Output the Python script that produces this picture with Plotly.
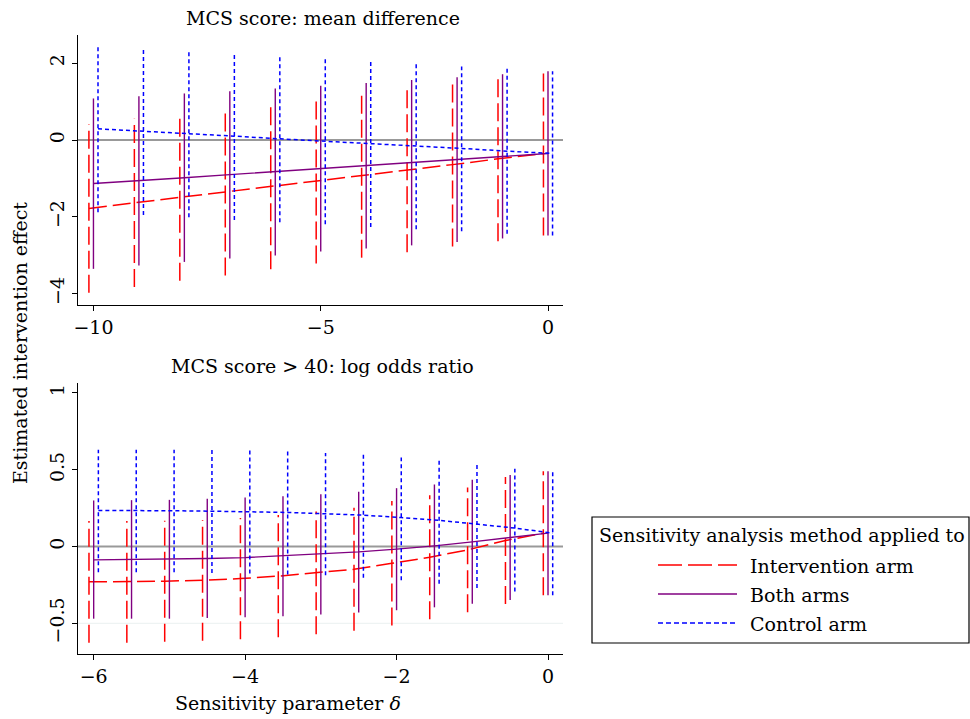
import plotly.graph_objects as go

# ---------------- data ----------------
delta_md = [-10, -9, -8, -7, -6, -5, -4, -3, -2, -1, 0]
md_int_est = [-1.78, -1.63, -1.49, -1.35, -1.21, -1.06, -0.92, -0.78, -0.64, -0.49, -0.35]
md_int_lo = [-3.97, -3.82, -3.66, -3.52, -3.36, -3.21, -3.06, -2.92, -2.77, -2.63, -2.48]
md_int_hi = [0.41, 0.55, 0.68, 0.81, 0.96, 1.09, 1.24, 1.38, 1.52, 1.65, 1.79]
md_both_est = [-1.13, -1.06, -0.98, -0.90, -0.82, -0.74, -0.66, -0.58, -0.50, -0.43, -0.35]
md_both_lo = [-3.35, -3.26, -3.17, -3.08, -3.00, -2.90, -2.82, -2.74, -2.65, -2.56, -2.48]
md_both_hi = [1.08, 1.14, 1.21, 1.27, 1.34, 1.41, 1.48, 1.56, 1.63, 1.71, 1.79]
md_ctrl_est = [0.29, 0.23, 0.16, 0.10, 0.03, -0.03, -0.09, -0.16, -0.22, -0.29, -0.35]
md_ctrl_lo = [-1.88, -1.95, -2.01, -2.08, -2.14, -2.19, -2.26, -2.32, -2.37, -2.44, -2.48]
md_ctrl_hi = [2.47, 2.40, 2.32, 2.25, 2.18, 2.11, 2.04, 1.98, 1.91, 1.85, 1.79]

delta_or = [-6, -5.5, -5, -4.5, -4, -3.5, -3, -2.5, -2, -1.5, -1, -0.5, 0]
or_int_est = [-0.230, -0.230, -0.226, -0.220, -0.209, -0.193, -0.172, -0.148, -0.109, -0.070, -0.022, 0.039, 0.087]
or_int_lo = [-0.626, -0.626, -0.620, -0.613, -0.604, -0.591, -0.572, -0.548, -0.515, -0.474, -0.428, -0.374, -0.317]
or_int_hi = [0.166, 0.166, 0.168, 0.173, 0.186, 0.205, 0.228, 0.252, 0.297, 0.334, 0.384, 0.452, 0.491]
or_both_est = [-0.087, -0.085, -0.080, -0.078, -0.072, -0.061, -0.048, -0.035, -0.017, 0.004, 0.030, 0.059, 0.087]
or_both_lo = [-0.470, -0.470, -0.470, -0.465, -0.461, -0.454, -0.443, -0.430, -0.415, -0.396, -0.372, -0.348, -0.317]
or_both_hi = [0.300, 0.302, 0.304, 0.311, 0.320, 0.328, 0.341, 0.357, 0.380, 0.404, 0.435, 0.465, 0.491]
or_ctrl_est = [0.235, 0.235, 0.233, 0.230, 0.226, 0.222, 0.213, 0.204, 0.189, 0.170, 0.146, 0.120, 0.087]
or_ctrl_lo = [-0.167, -0.167, -0.167, -0.172, -0.176, -0.183, -0.187, -0.204, -0.220, -0.243, -0.270, -0.293, -0.317]
or_ctrl_hi = [0.630, 0.630, 0.630, 0.630, 0.626, 0.620, 0.609, 0.598, 0.580, 0.561, 0.533, 0.507, 0.491]

md_xticks = [-10, -5, 0]
md_yticks = [-4, -2, 0, 2]
or_xticks = [-6, -4, -2, 0]
or_yticks = [-0.5, 0, 0.5, 1]

series_names = ["Intervention arm", "Both arms", "Control arm"]
panel_titles = ["MCS score: mean difference", "MCS score > 40: log odds ratio"]
legend_title = "Sensitivity analysis method applied to"
x_title = "Sensitivity parameter <i>δ</i>"
y_title = "Estimated intervention effect"

# ---------------- style ----------------
W, H = 970, 719
FONT = "DejaVu Serif"
FS = 19
RED, PURPLE, BLUE = "#ff0000", "#800080", "#0000ff"
DASH_RED = "18px,6px"
DASH_BLUE = "4px,3px"
styles = [(RED, DASH_RED, 1.5), (PURPLE, "solid", 1.4), (BLUE, DASH_BLUE, 1.5)]


def fx(px):
    return px / W


def fy(py):
    return 1 - py / H


fig = go.Figure()


def add_panel(xa, ya, delta, groups, step_off):
    offs = [-step_off, 0.0, step_off]
    for (est, lo, hi), (col, dash, w), off, name in zip(groups, styles, offs, series_names):
        xs = [d + off for d in delta]
        sx, sy = [], []
        for x, l, h in zip(xs, lo, hi):
            sx += [x, x, None]
            sy += [l, h, None]
        fig.add_trace(go.Scatter(x=sx, y=sy, mode="lines", xaxis=xa, yaxis=ya,
                                 line=dict(color=col, dash=dash, width=w),
                                 showlegend=False, hoverinfo="skip", name=name))
        fig.add_trace(go.Scatter(x=xs, y=est, mode="lines", xaxis=xa, yaxis=ya,
                                 line=dict(color=col, dash=dash, width=w),
                                 showlegend=False, name=name))


add_panel("x", "y", delta_md,
          [(md_int_est, md_int_lo, md_int_hi),
           (md_both_est, md_both_lo, md_both_hi),
           (md_ctrl_est, md_ctrl_lo, md_ctrl_hi)], 0.1)
add_panel("x2", "y2", delta_or,
          [(or_int_est, or_int_lo, or_int_hi),
           (or_both_est, or_both_lo, or_both_hi),
           (or_ctrl_est, or_ctrl_lo, or_ctrl_hi)], 0.062)

axis_common = dict(showline=True, linecolor="black", linewidth=1.3, ticks="outside",
                   ticklen=5, tickwidth=1.3, tickcolor="black", showgrid=False,
                   zeroline=False, automargin=False,
                   tickfont=dict(family=FONT, size=FS, color="black"))

fig.update_layout(
    width=W, height=H, margin=dict(l=0, r=0, t=0, b=0, autoexpand=False),
    paper_bgcolor="white", plot_bgcolor="white",
    font=dict(family=FONT, size=FS, color="black"),
    showlegend=False,
    xaxis=dict(domain=[fx(78), fx(563)], range=[-10.34, 0.33], anchor="y",
               tickvals=md_xticks, **axis_common),
    yaxis=dict(domain=[fy(305), fy(35)], range=[-4.29, 2.73], anchor="x",
               tickvals=md_yticks, tickangle=-90, **axis_common),
    xaxis2=dict(domain=[fx(78), fx(563)], range=[-6.207, 0.198], anchor="y2",
                tickvals=or_xticks, **axis_common),
    yaxis2=dict(domain=[fy(654), fy(383)], range=[-0.70, 1.065], anchor="x2",
                tickvals=or_yticks, tickangle=-90, **axis_common),
)

shapes = [
    dict(type="line", xref="x domain", yref="y", x0=0, x1=1, y0=0, y1=0,
         line=dict(color="#999999", width=1.8), layer="below"),
    dict(type="line", xref="x2 domain", yref="y2", x0=0, x1=1, y0=0, y1=0,
         line=dict(color="#999999", width=1.8), layer="below"),
    dict(type="line", xref="x2 domain", yref="y2", x0=0, x1=1, y0=-0.5, y1=-0.5,
         line=dict(color="#eaf0f0", width=1), layer="below"),
    # legend box
    dict(type="rect", xref="paper", yref="paper", x0=fx(592), x1=fx(969), y0=fy(643), y1=fy(517),
         line=dict(color="black", width=1.2), fillcolor="white"),
]
annotations = [
    dict(text=panel_titles[0], x=fx(323), y=fy(18), xref="paper", yref="paper",
         showarrow=False, xanchor="center", yanchor="middle", font=dict(size=FS)),
    dict(text=panel_titles[1], x=fx(322), y=fy(366), xref="paper", yref="paper",
         showarrow=False, xanchor="center", yanchor="middle", font=dict(size=FS)),
    dict(text=x_title, x=fx(288), y=fy(703), xref="paper", yref="paper",
         showarrow=False, xanchor="center", yanchor="middle", font=dict(size=FS)),
    dict(text=y_title, x=fx(20), y=fy(343), xref="paper", yref="paper", textangle=-90,
         showarrow=False, xanchor="center", yanchor="middle", font=dict(size=FS)),
    dict(text=legend_title, x=fx(597), y=fy(535), xref="paper", yref="paper",
         showarrow=False, xanchor="left", yanchor="middle", font=dict(size=19)),
]
legend_rows = [565, 594, 623]
for (col, dash, w), name, ry in zip(styles, series_names, legend_rows):
    ldash = "24px,6px" if dash == DASH_RED else ("5px,3px" if dash == DASH_BLUE else dash)
    shapes.append(dict(type="line", xref="paper", yref="paper", x0=fx(658), x1=fx(737),
                       y0=fy(ry), y1=fy(ry), line=dict(color=col, dash=ldash, width=w)))
    annotations.append(dict(text=name, x=fx(748), y=fy(ry + 1), xref="paper", yref="paper",
                            showarrow=False, xanchor="left", yanchor="middle",
                            font=dict(size=FS)))

fig.update_layout(shapes=shapes, annotations=annotations)
fig.write_html("out.html", config={"displayModeBar": False},
               post_script="document.body.style.margin='0px';document.body.style.overflow='hidden';")
